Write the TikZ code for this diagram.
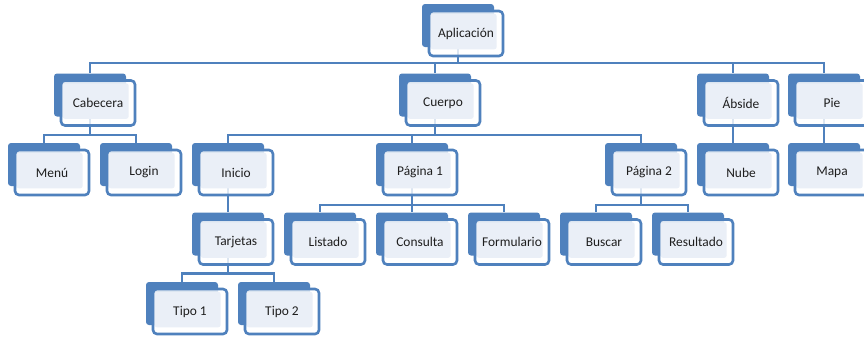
\documentclass[tikz,border=0pt]{standalone}
\usepackage{fontspec}
\setmainfont{Carlito}
\definecolor{hblue}{HTML}{4F81BD}
\definecolor{hlight}{HTML}{EAEFF7}
\definecolor{htext}{HTML}{1E1E1E}
\newcommand\hback[4]{\node[hback] (#1) at (#2,#3) {};}
\newcommand\hfront[2]{\node[hfront] (#1f) at ([shift={(8,8)}]#1.center) {#2};}
\begin{document}
\begin{tikzpicture}[x=1pt,y=-1pt,
  hback/.style={draw=none, fill=hblue, rounded corners=3pt, minimum width=72pt, minimum height=43pt, inner sep=0pt},
  hfront/.style={draw=hblue, line width=2.6pt, fill=white, fill opacity=0.8, text opacity=1,
    rounded corners=4pt, minimum width=74pt, minimum height=45pt, inner sep=0pt,
    text=htext, font=\fontsize{13.4}{16}\selectfont,
    path picture={\fill[hlight, fill opacity=1, rounded corners=2.5pt]
      ([xshift=1.4pt,yshift=-2.8pt]path picture bounding box.north west) rectangle
      ([xshift=-6.3pt,yshift=6.7pt]path picture bounding box.south east);}},
  conn/.style={draw=hblue, line width=2.4pt}]
\clip (0,0) rectangle (864,341);
\fill[white] (0,0) rectangle (864,341);
% back shapes
\hback{apl}{458}{25.5}{}
\hback{cab}{90}{95}{}
\hback{cue}{435}{95}{}
\hback{abs}{733}{95}{}
\hback{pie}{824}{95}{}
\hback{menu}{44}{164.5}{}
\hback{login}{136}{164.5}{}
\hback{ini}{228}{164.5}{}
\hback{pagA}{412}{164.5}{}
\hback{pagB}{641}{164.5}{}
\hback{nube}{733}{164.5}{}
\hback{mapa}{824}{164.5}{}
\hback{tar}{228}{234}{}
\hback{lis}{320}{234}{}
\hback{con}{412}{234}{}
\hback{frm}{504}{234}{}
\hback{bsc}{596}{234}{}
\hback{res}{688}{234}{}
\hback{tipA}{182}{303.5}{}
\hback{tipB}{274}{303.5}{}
% bus levels
\coordinate (b1) at (0,63);
\coordinate (b2) at (0,135);
\coordinate (b3) at (0,205);
\coordinate (b4) at (0,273.5);
% connectors
\foreach \c in {cab,cue,abs,pie}
  \draw[conn] (apl.south) -- (apl.south |- b1) -| (\c.north);
\foreach \c in {menu,login}
  \draw[conn] (cab.south) -- (cab.south |- b2) -| (\c.north);
\foreach \c in {ini,pagA,pagB}
  \draw[conn] (cue.south) -- (cue.south |- b2) -| (\c.north);
\draw[conn] (abs.south) -- (nube.north);
\draw[conn] (pie.south) -- (mapa.north);
\draw[conn] (ini.south) -- (tar.north);
\foreach \c in {lis,con,frm}
  \draw[conn] (pagA.south) -- (pagA.south |- b3) -| (\c.north);
\foreach \c in {bsc,res}
  \draw[conn] (pagB.south) -- (pagB.south |- b3) -| (\c.north);
\foreach \c in {tipA,tipB}
  \draw[conn] (tar.south) -- (tar.south |- b4) -| (\c.north);
% front shapes with text
\hfront{apl}{Aplicación}
\hfront{cab}{Cabecera}
\hfront{cue}{Cuerpo}
\hfront{abs}{Ábside}
\hfront{pie}{Pie}
\hfront{menu}{Menú}
\hfront{login}{Login}
\hfront{ini}{Inicio}
\hfront{pagA}{Página 1}
\hfront{pagB}{Página 2}
\hfront{nube}{Nube}
\hfront{mapa}{Mapa}
\hfront{tar}{Tarjetas}
\hfront{lis}{Listado}
\hfront{con}{Consulta}
\hfront{frm}{Formulario}
\hfront{bsc}{Buscar}
\hfront{res}{Resultado}
\hfront{tipA}{Tipo 1}
\hfront{tipB}{Tipo 2}
\end{tikzpicture}
\end{document}
